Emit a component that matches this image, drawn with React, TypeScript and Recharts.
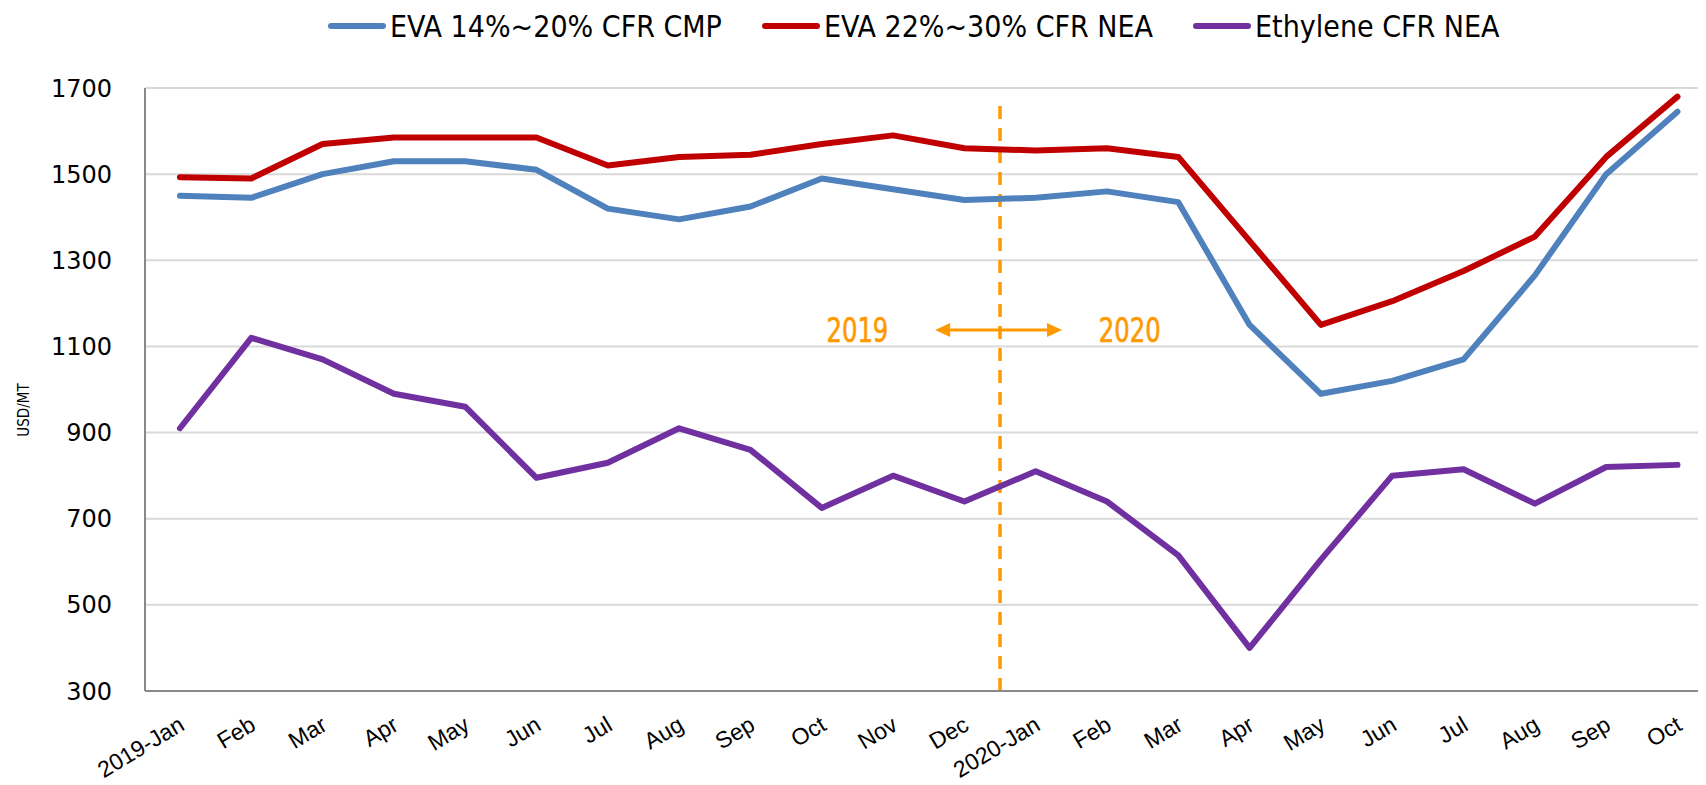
import React from 'react';
import { LineChart, Line, XAxis, YAxis, CartesianGrid, ReferenceLine, ReferenceDot } from 'recharts';

const months = [
  '2019-Jan', 'Feb', 'Mar', 'Apr', 'May', 'Jun', 'Jul', 'Aug', 'Sep', 'Oct', 'Nov', 'Dec',
  '2020-Jan', 'Feb', 'Mar', 'Apr', 'May', 'Jun', 'Jul', 'Aug', 'Sep', 'Oct',
];

const eva1420 = [
  1450, 1445, 1500, 1530, 1530, 1510, 1420, 1395, 1425, 1490, 1465, 1440,
  1445, 1460, 1435, 1150, 990, 1020, 1070, 1265, 1500, 1645,
];

const eva2230 = [
  1493, 1490, 1570, 1585, 1585, 1585, 1520, 1540, 1545, 1570, 1590, 1560,
  1555, 1560, 1540, 1345, 1150, 1205, 1275, 1355, 1540, 1680,
];

const ethylene = [
  910, 1120, 1070, 990, 960, 795, 830, 910, 860, 725, 800, 740,
  810, 740, 615, 400, 605, 800, 815, 735, 820, 825,
];

const yTicks = [300, 500, 700, 900, 1100, 1300, 1500, 1700];

const seriesInfo = [
  { key: 'eva1420', name: 'EVA 14%~20% CFR CMP', color: '#4F81BD' },
  { key: 'eva2230', name: 'EVA 22%~30% CFR NEA', color: '#C00000' },
  { key: 'ethylene', name: 'Ethylene CFR NEA', color: '#7030A0' },
];

const data = months.map((m, i) => ({
  idx: i,
  month: m,
  eva1420: eva1420[i],
  eva2230: eva2230[i],
  ethylene: ethylene[i],
}));

const ORANGE = '#FF9900';

const XTick = (props: any) => {
  const { x, y, payload } = props;
  const tx = x + 6;
  const ty = y + 38;
  return (
    <g transform={`translate(${tx}, ${ty})`}>
      <text
        x={0}
        y={0}
        textAnchor="end"
        transform="rotate(-31)"
        fontFamily="'Liberation Sans', Arial, sans-serif"
        fontSize={23}
        fill="#000"
      >
        {months[payload.value]}
      </text>
    </g>
  );
};

const Arrow = (props: any) => {
  const { x1, y1, x2, y2 } = props;
  const head = 15;
  const hw = 7;
  return (
    <g>
      <line x1={x1 + head - 2} y1={y1} x2={x2 - head + 2} y2={y2} stroke={ORANGE} strokeWidth={3} />
      <polygon points={`${x1},${y1} ${x1 + head},${y1 - hw} ${x1 + head},${y1 + hw}`} fill={ORANGE} />
      <polygon points={`${x2},${y2} ${x2 - head},${y2 - hw} ${x2 - head},${y2 + hw}`} fill={ORANGE} />
    </g>
  );
};

const yearLabel = (text: string) => (props: any) => (
  <text
    transform={`translate(${props.cx}, ${props.cy + 12}) scale(0.82, 1)`}
    textAnchor="middle"
    fontFamily="'DejaVu Sans Condensed', 'DejaVu Sans', sans-serif"
    fontSize={33}
    fill={ORANGE}
    stroke={ORANGE}
    strokeWidth={0.6}
  >
    {text}
  </text>
);

export default function App() {
  return (
    <div style={{ position: 'relative', width: 1698, height: 777, background: '#fff' }}>
      <div
        style={{
          position: 'absolute',
          left: 320,
          top: 0,
          height: 36,
          display: 'flex',
          alignItems: 'center',
          gap: 40,
          fontFamily: "'DejaVu Sans Condensed', 'DejaVu Sans', sans-serif",
          fontSize: 30,
          color: '#000',
          whiteSpace: 'nowrap',
        }}
      >
        {seriesInfo.map((s) => (
          <div key={s.key} style={{ display: 'flex', alignItems: 'center', gap: 4 }}>
            <div style={{ width: 58, height: 6, borderRadius: 3, background: s.color }} />
            <span>{s.name}</span>
          </div>
        ))}
      </div>
      <div
        style={{
          position: 'absolute',
          left: 16,
          top: 402,
          transform: 'translate(-50%, -50%) rotate(-90deg)',
          fontFamily: "'DejaVu Sans Condensed', 'DejaVu Sans', sans-serif",
          fontSize: 15,
          color: '#000',
          whiteSpace: 'nowrap',
        }}
      >
        USD/MT
      </div>
      <LineChart
        width={1698}
        height={777}
        data={data}
        margin={{ top: 80, right: 0, left: 37, bottom: 0 }}
      >
        <CartesianGrid vertical={false} stroke="#D9D9D9" strokeWidth={2} />
        <XAxis
          type="number"
          dataKey="idx"
          domain={[-0.49, 21.4]}
          ticks={months.map((_, i) => i)}
          interval={0}
          allowDataOverflow
          height={94}
          tickSize={0}
          tickMargin={0}
          tickLine={false}
          axisLine={{ stroke: '#898989', strokeWidth: 2 }}
          tick={<XTick />}
        />
        <YAxis
          domain={[300, 1700]}
          ticks={yTicks}
          width={100}
          tickSize={0}
          tickMargin={33}
          tickLine={false}
          axisLine={{ stroke: '#898989', strokeWidth: 2 }}
          tick={{ fill: '#000', fontSize: 24, fontFamily: "'DejaVu Sans', Verdana, sans-serif" }}
        />
        <ReferenceLine
          segment={[{ x: 11.5, y: 300 }, { x: 11.5, y: 1670 }]}
          stroke={ORANGE}
          strokeWidth={3.5}
          strokeDasharray="13 9"
        />
        <ReferenceLine
          segment={[{ x: 10.59, y: 1138 }, { x: 12.37, y: 1138 }]}
          shape={<Arrow />}
        />
        <ReferenceDot x={9.5} y={1138} r={0} shape={yearLabel('2019')} />
        <ReferenceDot x={13.32} y={1138} r={0} shape={yearLabel('2020')} />
        {seriesInfo.map((s) => (
          <Line
            key={s.key}
            type="linear"
            dataKey={s.key}
            name={s.name}
            stroke={s.color}
            strokeWidth={6}
            strokeLinecap="round"
            strokeLinejoin="round"
            dot={false}
            activeDot={false}
            isAnimationActive={false}
          />
        ))}
      </LineChart>
    </div>
  );
}
